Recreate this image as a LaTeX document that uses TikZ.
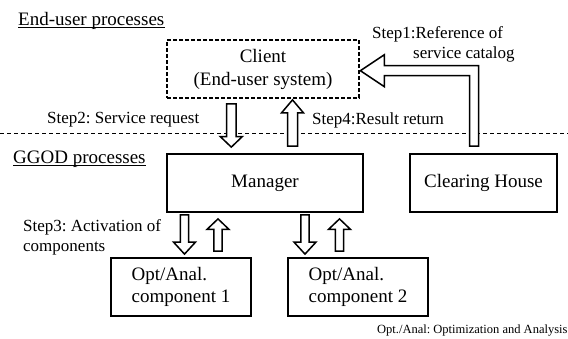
\documentclass[tikz,border=0pt]{standalone}
\usepackage{fontspec}
\setmainfont{Liberation Serif}
\usetikzlibrary{calc}
\frenchspacing
% vertical block arrow: #1 start, #2 tip, #3 shaft half width, #4 head half width, #5 head length
\newcommand\vbarrow[5]{%
  \draw[blockarrow] let \p1=(#1), \p2=(#2), \n1={sign(\y2-\y1)} in
    ({\x1-#3},\y1) -- ({\x1-#3},{\y2-\n1*#5}) -- ({\x1-#4},{\y2-\n1*#5}) -- (\x1,\y2)
    -- ({\x1+#4},{\y2-\n1*#5}) -- ({\x1+#3},{\y2-\n1*#5}) -- ({\x1+#3},\y1) -- cycle;}
\begin{document}
\begin{tikzpicture}[x=1pt,y=-1pt,
  box/.style={draw, line width=1.8pt, minimum height=58pt, inner sep=0pt, align=center,
    font=\fontsize{19}{23}\selectfont},
  compbox/.style={box, minimum width=140pt, align=left, font=\fontsize{19}{22}\selectfont},
  clientbox/.style={box, line width=1.8pt, dash pattern=on 4pt off 2pt},
  blockarrow/.style={draw, line width=1.5pt, fill=white, line join=miter},
  heading/.style={anchor=base west, inner sep=0pt, font=\fontsize{19}{23}\selectfont},
  steplabel/.style={anchor=base west, inner sep=0pt, font=\fontsize{17}{20}\selectfont},
  uline/.style={line width=0.9pt},
  sepline/.style={line width=0.8pt, dash pattern=on 4pt off 3pt}]
\useasboundingbox (0,0) rectangle (568,338);
\fill[white] (0,0) rectangle (568,338);

% separator
\coordinate (sepL) at (0,133);
\coordinate (sepR) at (568,133);
\draw[sepline] (sepL) -- (sepR);

% headings
\node[heading] (h1) at (18,25.5) {End-user processes};
\draw[uline] ([yshift=-2pt]h1.base west) -- ([yshift=-2pt]h1.base east);
\node[heading] (h2) at (13,163) {GGOD processes};
\draw[uline] ([yshift=-2pt]h2.base west) -- ([yshift=-2pt]h2.base east);

% boxes
\node[clientbox, minimum width=192pt] (client) at (263,69) {Client\\(End-user system)};
\node[box, minimum width=196pt] (manager) at (265,183) {Manager};
\node[box, minimum width=147pt] (clearing) at (483.5,183) {Clearing House};
\node[compbox] (comp1) at (181,287) {Opt/Anal.\\component 1};
\node[compbox] (comp2) at (358,287) {Opt/Anal.\\component 2};

% labels
\node[steplabel] (s1a) at (372,38) {Step1:Reference of};
\node[steplabel] (s1b) at (413,58) {service catalog};
\node[steplabel] (s2) at (47,123.5) {Step2: Service request};
\node[steplabel] (s4) at (312,124.5) {Step4:Result return};
\node[steplabel] (s3a) at (23,231.5) {Step3: Activation of};
\node[steplabel] (s3b) at (23,251.5) {components};
\node[anchor=base west, inner sep=0pt, font=\fontsize{12.5}{15}\selectfont] (note) at (377,333.5)
  {Opt./Anal: Optimization and Analysis};

% step2 / step4 arrows
\coordinate (s2from) at ($(client.south)+(-31.7,5)$);
\coordinate (s2to) at ($(manager.north)+(-33.7,-6)$);
\vbarrow{s2from}{s2to}{4.7pt}{11pt}{10.5pt}
\coordinate (s4from) at ($(manager.north)+(27.5,-7)$);
\coordinate (s4to) at ($(client.south)+(29.5,1)$);
\vbarrow{s4from}{s4to}{5pt}{11pt}{13pt}

% step3 arrows
\coordinate (c1d0) at ($(manager.south)+(-80.5,2)$);
\coordinate (c1d1) at ($(comp1.north)+(3.5,-3)$);
\vbarrow{c1d0}{c1d1}{4.2pt}{11pt}{12pt}
\coordinate (c1u0) at ($(comp1.north)+(37,-6)$);
\coordinate (c1u1) at ($(manager.south)+(-47,6)$);
\vbarrow{c1u0}{c1u1}{4.2pt}{11pt}{10.5pt}
\coordinate (c2d0) at ($(manager.south)+(40,2)$);
\coordinate (c2d1) at ($(comp2.north)+(-53,-3)$);
\vbarrow{c2d0}{c2d1}{4.2pt}{11pt}{12pt}
\coordinate (c2u0) at ($(comp2.north)+(-18.5,-6)$);
\coordinate (c2u1) at ($(manager.south)+(74.5,6)$);
\vbarrow{c2u0}{c2u1}{4.2pt}{11pt}{10.5pt}

% step1 elbow arrow
\coordinate (e1) at ($(clearing.north)+(-9.5,-7)$);
\coordinate (e2) at ($(client.east)+(0.5,1.7)$);
\draw[blockarrow] let \p1=(e1), \p2=(e2) in
  ({\x1-4.5pt},\y1) -- ({\x1-4.5pt},{\y2-5pt}) -- ({\x2+24pt},{\y2-5pt}) -- ({\x2+24pt},{\y2-16pt})
  -- (\x2,\y2) -- ({\x2+24pt},{\y2+16pt}) -- ({\x2+24pt},{\y2+5pt}) -- ({\x1+4.5pt},{\y2+5pt})
  -- ({\x1+4.5pt},\y1) -- cycle;
\end{tikzpicture}
\end{document}
